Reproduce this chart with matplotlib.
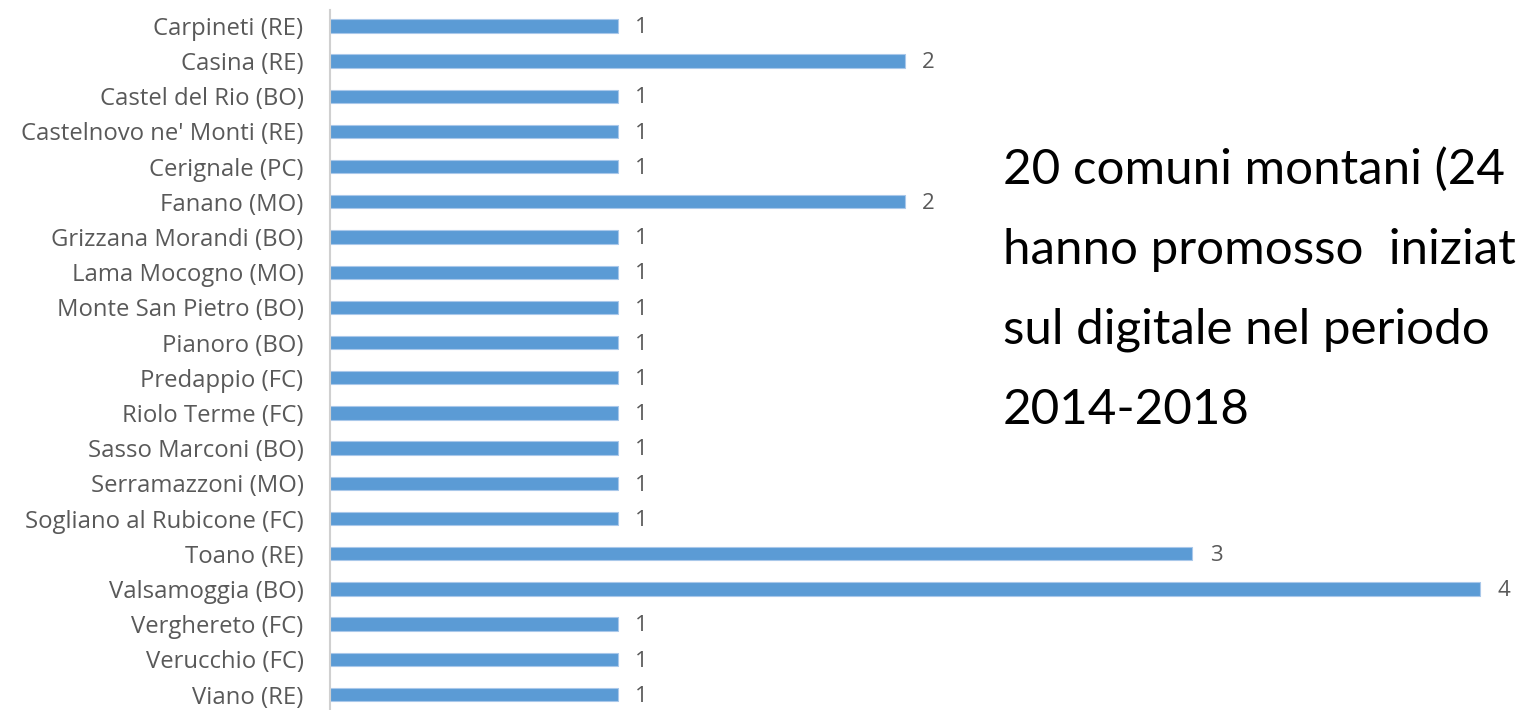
import matplotlib
matplotlib.use("Agg")
from matplotlib import pyplot as plt

# comuni and number of digital initiatives 2014-2018
comuni = [
    "Carpineti (RE)", "Casina (RE)", "Castel del Rio (BO)", "Castelnovo ne' Monti (RE)",
    "Cerignale (PC)", "Fanano (MO)", "Grizzana Morandi (BO)", "Lama Mocogno (MO)",
    "Monte San Pietro (BO)", "Pianoro (BO)", "Predappio (FC)", "Riolo Terme (FC)",
    "Sasso Marconi (BO)", "Serramazzoni (MO)", "Sogliano al Rubicone (FC)", "Toano (RE)",
    "Valsamoggia (BO)", "Verghereto (FC)", "Verucchio (FC)", "Viano (RE)",
]
iniziative = [1, 2, 1, 1, 1, 2, 1, 1, 1, 1, 1, 1, 1, 1, 1, 3, 4, 1, 1, 1]

# visible part of the slide text (it runs off the right edge)
testo = ["20 comuni montani (24",
         "hanno promosso  iniziat",
         "sul digitale nel periodo",
         "2014-2018"]

W, H = 1516, 710
fig = plt.figure(figsize=(W / 100, H / 100), dpi=100)
ax = fig.add_axes([330 / W, 0, (W - 330) / W, 700 / H])

y = range(len(comuni))
ax.barh(y, iniziative, height=0.38, color="#5b9bd5", edgecolor="#a9c8ea", linewidth=0.8)
ax.set_ylim(19.44, -0.45)
ax.set_xlim(0, (W - 330) / 287.5)

for i, v in enumerate(iniziative):
    ax.text(v + 0.06, i + 0.05, str(v), va="center", ha="left", fontsize=16,
            color="#595959", family="Open Sans")

ax.set_yticks(list(y))
ax.set_yticklabels(comuni, fontsize=17.2, color="#595959", family="Open Sans")
ax.tick_params(axis="y", length=0, pad=19)
ax.set_xticks([])
for s in ["top", "right", "bottom"]:
    ax.spines[s].set_visible(False)
ax.spines["left"].set_color("#d0d0d0")
ax.spines["left"].set_linewidth(1.5)

for k, line in enumerate(testo):
    fig.text(1003 / W, 1 - (184 + k * 80) / H, line, fontsize=35.5,
             family="Lato", color="black", ha="left", va="baseline")

fig.savefig("out.png", dpi=100)
